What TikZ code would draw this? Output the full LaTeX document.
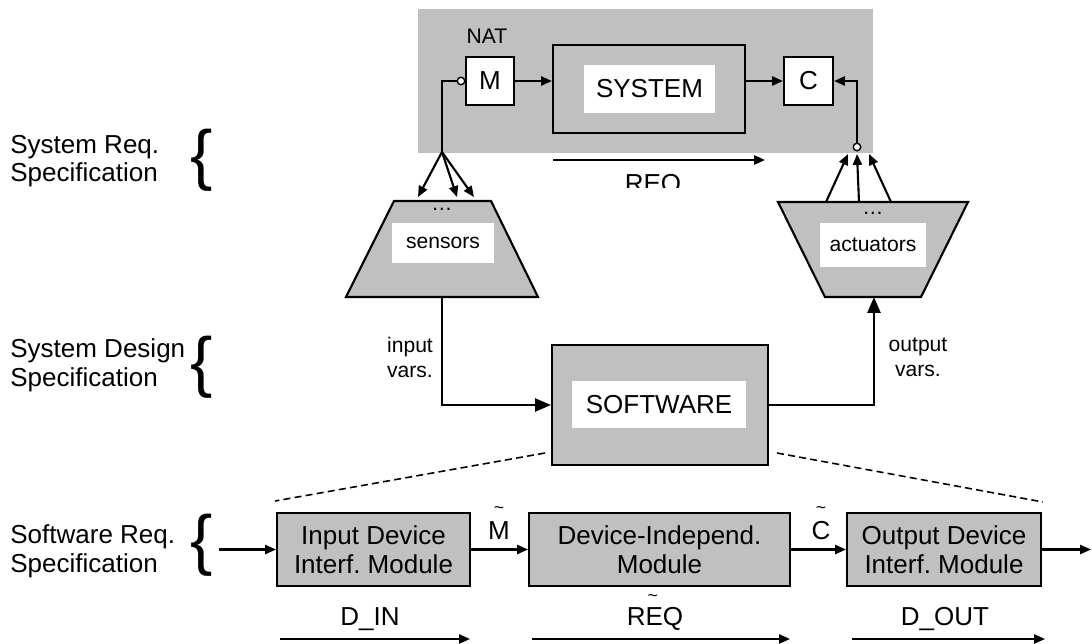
\documentclass[tikz,border=0pt]{standalone}
\usepackage{fontspec}
\setmainfont{Liberation Sans}
\usetikzlibrary{arrows.meta}
\definecolor{fillgray}{RGB}{192,192,192}
\frenchspacing
\begin{document}
\begin{tikzpicture}[x=0.02cm, y=-0.02cm,
  big/.style={font=\fontsize{14.8}{16.3}\selectfont},
  small/.style={font=\fontsize{12}{14.2}\selectfont},
  box/.style={draw, line width=1.2pt, inner sep=0pt},
  gfill/.style={fill=fillgray},
  wlab/.style={fill=white, inner sep=0pt},
  arr/.style={line width=1.2pt, -{Triangle[length=6.2pt, width=5.2pt]}},
  bigarr/.style={line width=1.2pt, -{Triangle[length=9pt, width=7.4pt]}},
  ln/.style={line width=1.2pt},
  dsh/.style={line width=0.9pt, dash pattern=on 4pt off 2.4pt},
  port/.style={circle, draw, fill=white, line width=0.8pt, inner sep=0pt, minimum size=0.15cm},
  bracestyle/.style={font=\fontsize{38}{38}\selectfont, inner sep=0pt},
  tildelab/.style={font=\fontsize{10}{10}\selectfont, inner sep=0pt},
]
\useasboundingbox (0,0) rectangle (1092,643);

% ---------- left level labels ----------
\node[big, align=left, anchor=west, inner sep=0pt] (l1) at (10,161) {System Req.\\Specification};
\node[bracestyle] (b1) at (202,160.5) {\{};
\node[big, align=left, anchor=west, inner sep=0pt] (l2) at (10,365) {System Design\\Specification};
\node[bracestyle] (b2) at (202,367) {\{};
\node[big, align=left, anchor=west, inner sep=0pt] (l3) at (10,551) {Software Req.\\Specification};
\node[bracestyle] (b3) at (202,545.5) {\{};

% ---------- system requirement level ----------
\node[gfill, inner sep=0pt, minimum width=9.1cm, minimum height=2.88cm] (nat) at (645.5,81) {};
\node[small] (natlab) at (487,36) {NAT};
\node[box, fill=white, minimum width=0.96cm, minimum height=0.96cm, big] (m) at (490,81) {M};
\node[box, gfill, minimum width=3.84cm, minimum height=1.76cm] (sys) at (649,89) {};
\node[wlab, minimum width=2.62cm, minimum height=0.96cm, big] (syslab) at (649.5,89) {SYSTEM};
\node[box, fill=white, minimum width=0.98cm, minimum height=0.96cm, big] (c) at (808.5,81) {C};

\draw[arr] (m.east) -- (m.east -| sys.west);
\draw[arr] (sys.east |- c.west) -- (c.west);

\node[port] (pm) at (461,81) {};
\coordinate (fan) at (442,152);
\draw[ln] (pm.west) -| (fan);
\coordinate (s1) at (418,197);
\coordinate (s2) at (457,197);
\coordinate (s3) at (474,197);
\draw[arr] (fan) -- (s1);
\draw[arr] (fan) -- (s2);
\draw[arr] (fan) -- (s3);

\node[port] (pc) at (857,147) {};
\draw[arr] (pc.north) |- (c.east);
\coordinate (a1) at (826,202);
\coordinate (a2) at (859,202);
\coordinate (a3) at (891,202);
\coordinate (t1) at (848,154);
\coordinate (t2) at (857,154);
\coordinate (t3) at (869,154);
\draw[arr] (a1) -- (t1);
\draw[arr] (a2) -- (t2);
\draw[arr] (a3) -- (t3);

\coordinate (req1) at (553,160);
\coordinate (req2) at (765,160);
\draw[arr] (req1) -- (req2);
\begin{scope}
  \clip (590,165) rectangle (720,187);
  \node[big, anchor=base, inner sep=0pt] (reqlab) at (653,192) {REQ};
\end{scope}

% ---------- sensors / actuators ----------
\coordinate (sensbot) at (442,297);
\draw[ln, fill=fillgray] (394,201) -- (491,201) -- (538,297) -- (346,297) -- cycle;
\node[wlab, minimum width=2.04cm, minimum height=0.8cm, small] (senslab) at (443,243) {sensors};
\node[small, inner sep=0pt] (sdots) at (442,209) {…};

\coordinate (actbot) at (874,297);
\draw[ln, fill=fillgray] (778,202) -- (968,202) -- (921,297) -- (825,297) -- cycle;
\node[wlab, minimum width=2.12cm, minimum height=0.88cm, small] (actlab) at (873,245) {actuators};
\node[small, inner sep=0pt] (adots) at (873,213) {…};

% ---------- software ----------
\node[box, gfill, minimum width=4.32cm, minimum height=2.4cm] (soft) at (660,405) {};
\node[wlab, minimum width=3.48cm, minimum height=0.94cm, big] (softlab) at (659,404.5) {SOFTWARE};
\draw[bigarr] (sensbot) |- (soft.west);
\draw[bigarr] (soft.east) -| (actbot);
\node[small, align=center] (inv) at (410,357) {input\\vars.};
\node[small, align=center] (outv) at (918,357) {output\\vars.};

\coordinate (d1a) at (545,453);
\coordinate (d1b) at (275,501);
\coordinate (d2a) at (777,453);
\coordinate (d2b) at (1043,502);
\draw[dsh] (d1a) -- (d1b);
\draw[dsh] (d2a) -- (d2b);

% ---------- software requirement level ----------
\node[box, gfill, minimum width=3.86cm, minimum height=1.46cm, big, align=center] (in) at (373.5,549.5) {Input Device\\Interf. Module};
\node[box, gfill, minimum width=5.22cm, minimum height=1.46cm, big, align=center] (dev) at (659.5,549.5) {Device-Independ.\\Module};
\node[box, gfill, minimum width=3.88cm, minimum height=1.46cm, big, align=center] (out) at (944,549.5) {Output Device\\Interf. Module};

\coordinate (inL) at (219,549.5);
\coordinate (outR) at (1091,549.5);
\draw[arr] (inL) -- (in.west);
\draw[arr] (in.east) -- (dev.west);
\draw[arr] (dev.east) -- (out.west);
\draw[arr] (out.east) -- (outR);

\node[big, anchor=base, inner sep=0pt, label={[tildelab, label distance=4pt]above:\textasciitilde}] (mt) at (499,539) {M};
\node[big, anchor=base, inner sep=0pt, label={[tildelab, label distance=4pt]above:\textasciitilde}] (ct) at (821,539) {C};

\node[big, anchor=base, inner sep=0pt] (din) at (370,625) {D\_IN};
\node[big, anchor=base, inner sep=0pt] (reqt) at (655,625) {R\rlap{\raisebox{13.5pt}{\hspace{1.2pt}\fontsize{10}{10}\selectfont\textasciitilde}}EQ};
\node[big, anchor=base, inner sep=0pt] (dout) at (945,625) {D\_OUT};

\coordinate (da1) at (280,639);
\coordinate (da2) at (470,639);
\coordinate (db1) at (532,639);
\coordinate (db2) at (790,639);
\coordinate (dc1) at (852,639);
\coordinate (dc2) at (1045,639);
\draw[arr] (da1) -- (da2);
\draw[arr] (db1) -- (db2);
\draw[arr] (dc1) -- (dc2);
\end{tikzpicture}
\end{document}
